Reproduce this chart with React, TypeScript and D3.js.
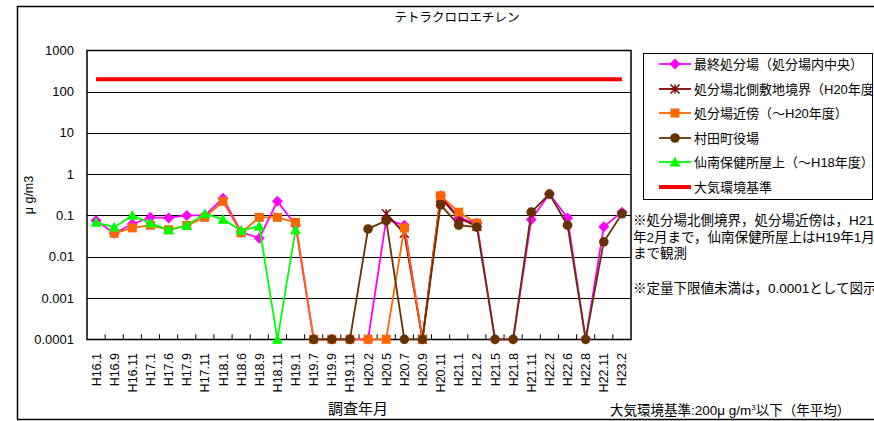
import React from "react";
import * as d3 from "d3";

const categories = ["H16.1","H16.9","H16.11","H17.1","H17.6","H17.9","H17.11","H18.1","H18.6","H18.9","H18.11","H19.1","H19.7","H19.9","H19.11","H20.2","H20.5","H20.7","H20.9","H20.11","H21.1","H21.2","H21.5","H21.8","H21.11","H22.2","H22.6","H22.8","H22.11","H23.2"];

const N = null;
const finalSite = [0.075,0.037,0.062,0.09,0.087,0.1,0.1,0.26,0.04,0.028,0.22,0.058,0.0001,0.0001,0.0001,0.0001,0.08,0.058,0.0001,0.3,0.087,0.065,0.0001,0.0001,0.08,0.33,0.087,0.0001,0.053,0.12];
const northBorder = [N,N,N,N,N,N,N,N,N,N,N,N,N,N,N,N,0.11,0.037,0.0001,0.27,0.087,0.055,N,N,N,N,N,N,N,N];
const nearSite = [N,0.037,0.05,0.058,0.045,0.057,0.09,0.22,0.038,0.09,0.09,0.068,0.0001,0.0001,0.0001,0.0001,0.0001,0.05,0.0001,0.3,0.12,0.065,N,N,N,N,N,N,N,N];
const townHall = [N,N,N,N,N,N,N,N,N,N,N,N,0.0001,0.0001,0.0001,0.047,0.075,0.0001,0.0001,0.18,0.058,0.052,0.0001,0.0001,0.12,0.33,0.058,0.0001,0.023,0.11];
const healthCenter = [0.068,0.052,0.1,0.065,0.045,0.057,0.11,0.08,0.043,0.055,0.0001,0.045,N,N,N,N,N,N,N,N,N,N,N,N,N,N,N,N,N,N];
const standardValue = 200;

const yTicks = [0.0001,0.001,0.01,0.1,1,10,100,1000];
const yTickLabels = ["0.0001","0.001","0.01","0.1","1","10","100","1000"];

const seriesNames = ["最終処分場（処分場内中央）","処分場北側敷地境界（H20年度）","処分場近傍（～H20年度）","村田町役場","仙南保健所屋上（～H18年度）","大気環境基準"];

const FONT = "'Liberation Sans', Arial, 'Noto Sans CJK JP', sans-serif";

type Shape = "diamond" | "star" | "square" | "circle" | "triangle";

function Marker({ shape, x, y, color }: { shape: Shape; x: number; y: number; color: string }) {
  if (shape === "diamond") {
    const s = 5.5;
    return <path d={`M${x},${y - s}L${x + s},${y}L${x},${y + s}L${x - s},${y}Z`} fill={color} />;
  }
  if (shape === "square") {
    return <rect x={x - 4.5} y={y - 4.5} width={9} height={9} fill={color} />;
  }
  if (shape === "circle") {
    return <circle cx={x} cy={y} r={4.8} fill={color} />;
  }
  if (shape === "triangle") {
    const s = 5.5;
    return <path d={`M${x},${y - s}L${x + s},${y + s * 0.8}L${x - s},${y + s * 0.8}Z`} fill={color} />;
  }
  const s = 4.5;
  return (
    <path d={`M${x - s},${y - s}L${x + s},${y + s}M${x - s},${y + s}L${x + s},${y - s}M${x},${y - s}L${x},${y + s}`} stroke={color} strokeWidth={1.5} fill="none" />
  );
}

export default function App() {
  const left = 87, right = 631, top = 50.3, bottom = 339.3;
  const x = d3.scaleBand<string>().domain(categories).range([left, right]);
  const bw = x.bandwidth();
  const cx = (i: number) => (x(categories[i]) as number) + bw / 2;
  const y = d3.scaleLog().domain([0.0001, 1000]).range([bottom, top]);

  const series: { data: (number | null)[]; color: string; shape: Shape; name: string }[] = [
    { data: finalSite, color: "#FF00FF", shape: "diamond", name: seriesNames[0] },
    { data: northBorder, color: "#800000", shape: "star", name: seriesNames[1] },
    { data: nearSite, color: "#FF6600", shape: "square", name: seriesNames[2] },
    { data: townHall, color: "#663300", shape: "circle", name: seriesNames[3] },
    { data: healthCenter, color: "#00FF00", shape: "triangle", name: seriesNames[4] },
  ];

  const line = d3
    .line<number | null>()
    .defined((d) => d != null)
    .x((_, i) => cx(i))
    .y((d) => y(d as number));

  const legendX = 643, legendY = 53;
  const legendRows = [64, 89, 113, 138, 162, 187];

  return (
    <svg width={874} height={421} style={{ position: "absolute", left: 0, top: 0, background: "#fff" }} fontFamily={FONT}>
      <rect x={0} y={0} width={874} height={421} fill="#fff" />
      {/* outer frame */}
      <path d="M880,6.5H17.5V419.5H880" fill="none" stroke="#000" strokeWidth={1.5} />
      {/* title */}
      <text x={457} y={22} textAnchor="middle" fontSize={12.5}>テトラクロロエチレン</text>

      {/* gridlines */}
      {yTicks.map((t) => (
        <line key={t} x1={left} x2={right} y1={Math.round(y(t)) + 0.5} y2={Math.round(y(t)) + 0.5} stroke="#000" strokeWidth={1} />
      ))}
      {/* plot frame */}
      <rect x={left} y={Math.round(top) + 0.5} width={right - left} height={Math.round(bottom) - Math.round(top)} fill="none" stroke="#000" strokeWidth={1.5} />
      {/* x ticks */}
      {categories.map((c, i) =>
        i === 0 ? null : (
          <line key={c} x1={x(c) as number} x2={x(c) as number} y1={bottom - 5} y2={bottom} stroke="#000" strokeWidth={1} />
        )
      )}
      {/* y tick labels */}
      {yTicks.map((t, i) => (
        <text key={t} x={74} y={y(t)} dy="0.35em" textAnchor="end" fontSize={13}>{yTickLabels[i]}</text>
      ))}
      {/* y title */}
      <text transform={`translate(33,195) rotate(-90)`} textAnchor="middle" fontSize={12.5}>μ  g/m3</text>

      {/* x labels */}
      {categories.map((c, i) => (
        <text key={c} transform={`translate(${cx(i) + 4.5},${353}) rotate(-90)`} textAnchor="end" fontSize={12.5}>{c}</text>
      ))}
      <text x={358} y={414} textAnchor="middle" fontSize={15}>調査年月</text>
      <text x={610} y={415} fontSize={13.5}>
        大気環境基準:200μ g/m<tspan dy={-5} fontSize={8}>3</tspan><tspan dy={5}>以下（年平均）</tspan>
      </text>

      {/* standard line */}
      <line x1={cx(0)} x2={cx(categories.length - 1)} y1={y(standardValue)} y2={y(standardValue)} stroke="#FF0000" strokeWidth={4} />

      {/* series */}
      {series.map((s) => (
        <g key={s.name}>
          <path d={line(s.data) || ""} fill="none" stroke={s.color} strokeWidth={1.8} />
          {s.data.map((v, i) => (v == null ? null : <Marker key={i} shape={s.shape} x={cx(i)} y={y(v)} color={s.color} />))}
        </g>
      ))}

      {/* legend */}
      <rect x={legendX + 0.5} y={legendY + 0.5} width={229} height={146} fill="#fff" stroke="#000" strokeWidth={1} />
      {series.map((s, i) => (
        <g key={s.name}>
          <line x1={659} x2={691} y1={legendRows[i]} y2={legendRows[i]} stroke={s.color} strokeWidth={1.8} />
          <Marker shape={s.shape} x={675} y={legendRows[i]} color={s.color} />
          <text x={694} y={legendRows[i]} dy="0.36em" fontSize={13}>{s.name}</text>
        </g>
      ))}
      <line x1={659} x2={691} y1={legendRows[5]} y2={legendRows[5]} stroke="#FF0000" strokeWidth={4} />
      <text x={694} y={legendRows[5]} dy="0.36em" fontSize={13}>{seriesNames[5]}</text>

      {/* notes */}
      <text x={633} fontSize={13.5}>
        <tspan x={633} y={225}>※処分場北側境界，処分場近傍は，H21</tspan>
        <tspan x={633} y={242}>年2月まで，仙南保健所屋上はH19年1月</tspan>
        <tspan x={633} y={258}>まで観測</tspan>
        <tspan x={633} y={293}>※定量下限値未満は，0.0001として図示</tspan>
      </text>
    </svg>
  );
}
